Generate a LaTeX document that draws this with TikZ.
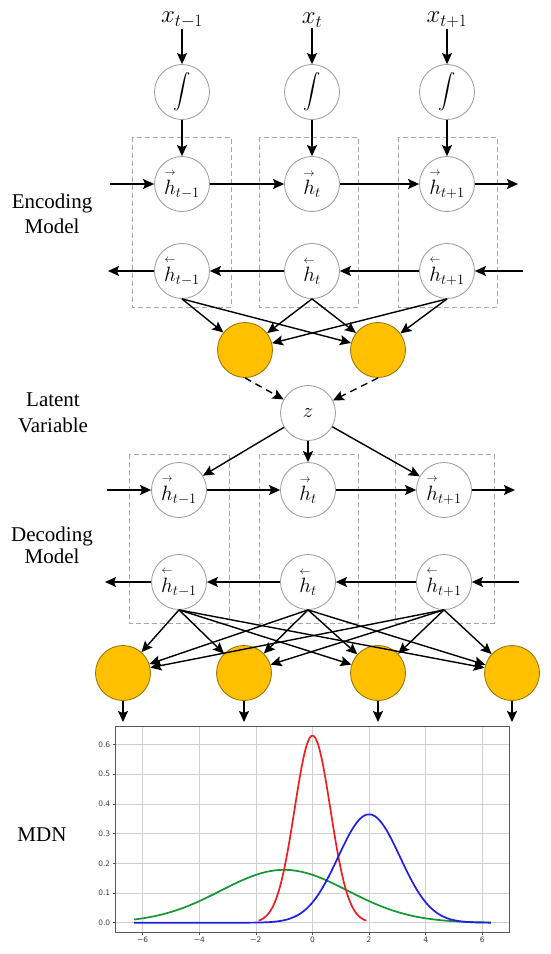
\documentclass[tikz,border=0pt]{standalone}
\usepackage{amsmath}
\usepackage{fontspec}
\setmainfont{Liberation Serif}
\setsansfont{DejaVu Sans}
\usetikzlibrary{calc,positioning,arrows.meta}
\definecolor{gold}{RGB}{255,192,0}
\definecolor{golddraw}{RGB}{150,110,0}
\definecolor{gridgray}{RGB}{208,208,208}
\definecolor{curvered}{RGB}{240,30,30}
\definecolor{curveblue}{RGB}{30,30,230}
\definecolor{curvegreen}{RGB}{20,150,50}
\newcommand{\fh}[1]{\overset{\scriptscriptstyle\rightarrow}{h}_{#1}}
\newcommand{\bh}[1]{\overset{\scriptscriptstyle\leftarrow}{h}_{#1}}
\tikzset{
  cell/.style={
    draw=gray!80,
    circle,
    minimum size=55pt,
    inner sep=0pt,
    line width=0.8pt,
    fill=white,
    font=\fontsize{22}{24}\selectfont,
  },
  intcell/.style={cell, font=\fontsize{17}{20}\selectfont},
  mix/.style={
    draw=golddraw,
    circle,
    minimum size=55pt,
    inner sep=0pt,
    line width=0.8pt,
    fill=gold,
  },
  group/.style={draw=gray!70, dash pattern=on 5pt off 3pt, line width=0.8pt},
  link/.style={line width=1.4pt, -{Stealth[length=11pt,width=10pt,inset=2pt]}},
  dlink/.style={link, dash pattern=on 7pt off 5pt},
  side/.style={font=\fontsize{21}{22}\selectfont, align=center},
  invar/.style={font=\fontsize{24}{26}\selectfont, inner sep=1pt},
  gridline/.style={draw=gridgray, line width=0.8pt},
  curve/.style={line width=1.7pt, smooth, samples=90},
  ticklab/.style={font=\sffamily\fontsize{7.5}{8}\selectfont, text=black!75, inner sep=2pt},
}
\begin{document}
\begin{tikzpicture}[x=1pt, y=-1pt]
  \useasboundingbox (0,0) rectangle (550,954);

  % dashed groups
  \draw[group] (132,137) rectangle (231,307);
  \draw[group] (259,137) rectangle (358,307);
  \draw[group] (398,137) rectangle (497,307);
  \draw[group] (129,454) rectangle (229,623);
  \draw[group] (259,454) rectangle (358,623);
  \draw[group] (395,454) rectangle (494,623);

  % side labels
  \node[side, font=\fontsize{21}{25}\selectfont] (enclab) at (52,214) {Encoding\\Model};
  \node[side, font=\fontsize{21}{26}\selectfont] (latlab) at (53,413) {Latent\\Variable};
  \node[side] (declab) at (52,545) {Decoding\\Model};
  \node[side] (mdnlab) at (42,835) {MDN};

  % encoding model
  \node[invar] (xin1) at (182,20) {$x_{t-1}$};
  \node[invar] (xin2) at (312,20) {$x_{t}$};
  \node[invar] (xin3) at (447,20) {$x_{t+1}$};
  \node[intcell] (ig1) at (182,92) {$\displaystyle\int$};
  \node[intcell] (ig2) at (312,92) {$\displaystyle\int$};
  \node[intcell] (ig3) at (447,92) {$\displaystyle\int$};
  \node[cell] (ef1) at (182,184) {$\fh{t-1}$};
  \node[cell] (ef2) at (312,184) {$\fh{t}$};
  \node[cell] (ef3) at (447,184) {$\fh{t+1}$};
  \node[cell] (eb1) at (182,271) {$\bh{t-1}$};
  \node[cell] (eb2) at (312,271) {$\bh{t}$};
  \node[cell] (eb3) at (447,271) {$\bh{t+1}$};
  \node[mix] (ey1) at (245,350) {};
  \node[mix] (ey2) at (378,350) {};

  % latent variable
  \node[cell] (z) at (308,413) {$z$};

  % decoding model
  \node[cell] (df1) at (179,490) {$\fh{t-1}$};
  \node[cell] (df2) at (308,490) {$\fh{t}$};
  \node[cell] (df3) at (444,490) {$\fh{t+1}$};
  \node[cell] (db1) at (179,582) {$\bh{t-1}$};
  \node[cell] (db2) at (308,582) {$\bh{t}$};
  \node[cell] (db3) at (444,582) {$\bh{t+1}$};
  \node[mix] (dy1) at (123,673) {};
  \node[mix] (dy2) at (244,673) {};
  \node[mix] (dy3) at (378,673) {};
  \node[mix] (dy4) at (512,673) {};

  % free ends
  \coordinate (ein)  at (110,184);
  \coordinate (eout) at (518,184);
  \coordinate (ebin) at (523,271);
  \coordinate (ebout) at (108,271);
  \coordinate (din)  at (107,490);
  \coordinate (dout) at (515,490);
  \coordinate (dbin) at (519,582);
  \coordinate (dbout) at (105,582);
  \coordinate (o1) at (123,722);
  \coordinate (o2) at (244,722);
  \coordinate (o3) at (378,722);
  \coordinate (o4) at (512,722);

  % connectors
  \foreach \i in {1,2,3} {
    \draw[link] (xin\i) -- (ig\i);
    \draw[link] (ig\i) -- (ef\i);
  }
  \draw[link] (ein) -- (ef1);
  \draw[link] (ef1) -- (ef2);
  \draw[link] (ef2) -- (ef3);
  \draw[link] (ef3) -- (eout);
  \draw[link] (ebin) -- (eb3);
  \draw[link] (eb3) -- (eb2);
  \draw[link] (eb2) -- (eb1);
  \draw[link] (eb1) -- (ebout);
  \foreach \i in {1,2,3}
    \foreach \j in {1,2}
      \draw[link] (eb\i.south) -- (ey\j);
  \draw[dlink] (ey1.south) -- (z);
  \draw[dlink] (ey2.south) -- (z);

  \foreach \i in {1,2,3}
    \draw[link] (z) -- (df\i);
  \draw[link] (din) -- (df1);
  \draw[link] (df1) -- (df2);
  \draw[link] (df2) -- (df3);
  \draw[link] (df3) -- (dout);
  \draw[link] (dbin) -- (db3);
  \draw[link] (db3) -- (db2);
  \draw[link] (db2) -- (db1);
  \draw[link] (db1) -- (dbout);
  \foreach \i in {1,2,3}
    \foreach \j in {1,...,4}
      \draw[link] (db\i.south) -- (dy\j);
  \foreach \j in {1,...,4}
    \draw[link] (dy\j) -- (o\j);

  % mixture density plot
  \begin{scope}[shift={(312.5,922.7)}, x=28.3pt, y=297pt]
    \foreach \gx in {-6,-4,...,6}
      \draw[gridline] (\gx,-0.031) -- (\gx,0.662);
    \foreach \k in {0,...,6}
      \draw[gridline] (-6.96,\k/10) -- (6.96,\k/10);
    \foreach \gx/\gl in {-6/−6,-4/−4,-2/−2,0/0,2/2,4/4,6/6}
      \draw[gray!60!black, line width=0.6pt] (\gx,-0.031) -- ++(0,-3pt)
        node[ticklab, below] {\gl};
    \foreach \k in {0,...,6}
      \draw[gray!60!black, line width=0.6pt] (-6.96,\k/10) -- ++(-3pt,0)
        node[ticklab, left] {0.\k};
    \draw[curve, curvegreen, domain=-6.3:6.3] plot (\x,{0.178*exp(-(\x+1)*(\x+1)/10.04)});
    \draw[curve, curvered, domain=-1.9:1.9] plot (\x,{0.63*exp(-(\x)*(\x)/0.802)});
    \draw[curve, curveblue, domain=-6.3:6.3] plot (\x,{0.365*exp(-(\x-2)*(\x-2)/2.39)});
    \draw[gray!70!black, line width=0.8pt] (-6.96,-0.031) rectangle (6.96,0.662);
  \end{scope}
\end{tikzpicture}
\end{document}
